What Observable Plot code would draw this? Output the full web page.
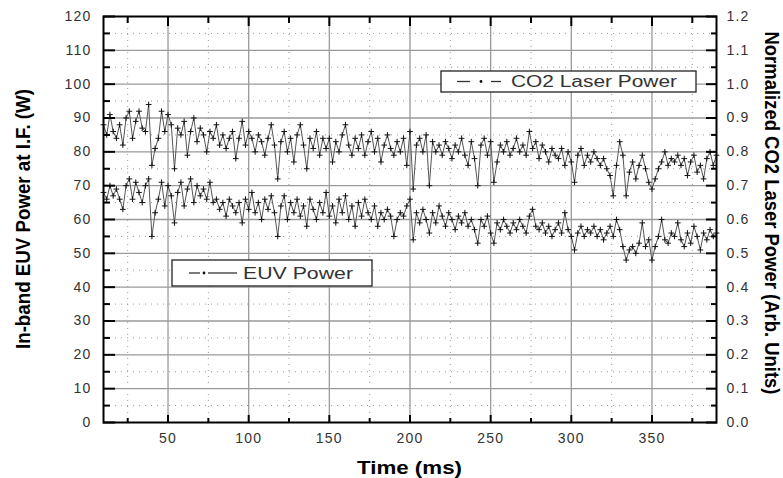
<!DOCTYPE html>
<html><head><meta charset="utf-8">
<script src="https://cdn.jsdelivr.net/npm/d3@7"></script>
<script src="https://cdn.jsdelivr.net/npm/@observablehq/plot@0.6"></script>
<style>body{margin:0;background:#fff;} svg{display:block;}</style>
</head><body><div id="chart"></div>
<script>
// sampling grid (ms)
const timeStart = 10, timeStep = 2;
// Normalized CO2 laser power (right axis, arb. units)
const co2Power = [
0.88,0.85,0.91,0.86,0.84,0.88,0.82,0.90,0.92,0.84,0.89,0.92,0.87,0.86,0.94,0.76,0.81,0.84,0.92,0.86,
0.91,0.88,0.75,0.87,0.85,0.89,0.79,0.86,0.90,0.83,0.87,0.85,0.80,0.86,0.84,0.88,0.82,0.85,0.81,0.84,
0.86,0.78,0.84,0.89,0.82,0.86,0.84,0.80,0.85,0.83,0.79,0.84,0.88,0.82,0.72,0.83,0.86,0.80,0.84,0.77,
0.85,0.88,0.82,0.75,0.84,0.81,0.86,0.79,0.84,0.81,0.84,0.77,0.83,0.80,0.85,0.88,0.82,0.79,0.84,0.81,
0.85,0.79,0.83,0.86,0.80,0.84,0.77,0.82,0.85,0.81,0.79,0.83,0.80,0.84,0.76,0.86,0.69,0.82,0.84,0.80,
0.85,0.70,0.83,0.80,0.82,0.79,0.83,0.81,0.78,0.82,0.80,0.84,0.79,0.76,0.83,0.78,0.70,0.82,0.84,0.79,
0.83,0.71,0.77,0.82,0.80,0.83,0.79,0.81,0.84,0.80,0.82,0.79,0.86,0.81,0.83,0.78,0.82,0.80,0.77,0.81,
0.79,0.78,0.81,0.76,0.80,0.77,0.71,0.79,0.81,0.76,0.79,0.77,0.80,0.78,0.76,0.78,0.75,0.73,0.67,0.76,
0.83,0.79,0.67,0.74,0.77,0.72,0.76,0.79,0.75,0.71,0.69,0.72,0.75,0.77,0.80,0.76,0.78,0.77,0.79,0.76,
0.78,0.73,0.77,0.79,0.74,0.76,0.72,0.78,0.80,0.76,0.79
];
// In-band EUV power at I.F. (W, left axis)
const euvPower = [
68,66,70,67,69,66,63,70,72,66,71,68,65,70,72,55,62,66,71,64,
70,67,59,68,71,64,69,72,65,70,67,69,66,71,65,66,63,65,61,66,
64,62,65,59,66,63,68,62,65,60,66,63,67,62,55,64,67,60,65,62,
66,61,64,58,66,63,60,65,62,68,61,64,59,66,62,67,60,64,58,65,
61,66,62,60,64,58,62,60,63,61,55,60,62,61,64,66,54,62,59,63,
60,56,62,59,64,61,58,62,60,57,61,59,62,58,60,57,53,60,58,61,
56,53,59,57,60,58,56,59,57,60,58,56,61,63,58,57,59,56,58,55,
57,59,56,62,57,55,51,56,58,55,57,56,58,55,57,54,56,58,55,60,
57,52,48,51,52,50,53,59,52,54,48,52,55,60,54,53,56,55,59,54,
52,56,53,58,55,51,56,54,57,55,56
];
const xMajorTicks = [50,100,150,200,250,300,350];
const xMinorTicks = [25,75,125,175,225,275,325,375];
const yMajorTicks = [0,10,20,30,40,50,60,70,80,90,100,110,120];
const yMinorTicks = [5,15,25,35,45,55,65,75,85,95,105,115];
const rightTickLabels = ["0.0","0.1","0.2","0.3","0.4","0.5","0.6","0.7","0.8","0.9","1.0","1.1","1.2"];
const xLabel = "Time (ms)";
const yLabel = "In-band EUV Power at I.F. (W)";
const y2Label = "Normalized CO2 Laser Power (Arb. Units)";
const legendLabels = ["CO2 Laser Power", "EUV Power"];

const co2 = co2Power.map((v, i) => ({t: timeStart + timeStep * i, v: v * 100}));
const euv = euvPower.map((v, i) => ({t: timeStart + timeStep * i, v}));
const innerMajorY = yMajorTicks.filter(d => d > 0 && d < 120);

const font = "'Liberation Sans', Arial, sans-serif";
const svg = Plot.plot({
  width: 783, height: 478,
  marginLeft: 103, marginRight: 67, marginTop: 16, marginBottom: 56,
  style: {fontFamily: font, background: "#fff", letterSpacing: "1.2px"},
  x: {domain: [10, 390], label: null},
  y: {domain: [0, 120], label: null},
  marks: [
    Plot.ruleY(yMinorTicks, {stroke: "#9a9a9a", strokeDasharray: "1,5"}),
    Plot.ruleX(xMinorTicks, {stroke: "#9a9a9a", strokeDasharray: "1,5"}),
    Plot.ruleY(innerMajorY, {stroke: "#9a9a9a", strokeWidth: 1.3}),
    Plot.ruleX(xMajorTicks, {stroke: "#9a9a9a", strokeWidth: 1.3}),
    Plot.line(co2, {x: "t", y: "v", stroke: "#555", strokeWidth: 1}),
    Plot.line(euv, {x: "t", y: "v", stroke: "#555", strokeWidth: 1}),
    Plot.dot(co2, {x: "t", y: "v", symbol: "plus", r: 2, stroke: "#111", strokeWidth: 1}),
    Plot.dot(euv, {x: "t", y: "v", symbol: "plus", r: 2, stroke: "#111", strokeWidth: 1}),
    Plot.frame({stroke: "#000", strokeWidth: 2}),
    // inward tick marks
    Plot.axisY(yMajorTicks, {anchor: "left", tickSize: 12, dx: 12, fill: "none", strokeWidth: 2, label: null}),
    Plot.axisY(yMinorTicks, {anchor: "left", tickSize: 7, dx: 7, fill: "none", strokeWidth: 2, label: null}),
    Plot.axisY(yMajorTicks, {anchor: "right", tickSize: 11, dx: -11, fill: "none", strokeWidth: 2, label: null}),
    Plot.axisY(yMinorTicks, {anchor: "right", tickSize: 6, dx: -6, fill: "none", strokeWidth: 2, label: null}),
    Plot.axisX(xMajorTicks, {anchor: "top", tickSize: 9, dy: 9, fill: "none", strokeWidth: 2, label: null}),
    Plot.axisX(xMinorTicks, {anchor: "top", tickSize: 6, dy: 6, fill: "none", strokeWidth: 2, label: null}),
    Plot.axisX(xMajorTicks, {anchor: "bottom", tickSize: 7, dy: -7, fill: "none", strokeWidth: 2, label: null}),
    Plot.axisX(xMinorTicks, {anchor: "bottom", tickSize: 4, dy: -4, fill: "none", strokeWidth: 2, label: null}),
    // tick labels
    Plot.axisY(yMajorTicks, {anchor: "left", tickSize: 0, tickPadding: 12, label: null, fill: "#333", fontSize: 14}),
    Plot.axisY(yMajorTicks, {anchor: "right", tickSize: 0, tickPadding: 10, label: null, fill: "#333", fontSize: 14,
      tickFormat: d => rightTickLabels[yMajorTicks.indexOf(d)]}),
    Plot.axisX(xMajorTicks, {anchor: "bottom", tickSize: 0, tickPadding: 11, label: null, fill: "#333", fontSize: 14})
  ]
});
document.getElementById("chart").appendChild(svg);

const g = d3.select(svg).append("g").attr("font-family", font).style("letter-spacing", "0px");
// axis titles
g.append("text").text(yLabel)
  .attr("transform", "translate(29.5,219) rotate(-90)")
  .attr("text-anchor", "middle").attr("font-weight", "bold").attr("font-size", 21)
  .attr("textLength", 260).attr("lengthAdjust", "spacingAndGlyphs").attr("fill", "#000");
g.append("text").text(y2Label)
  .attr("transform", "translate(765,213) rotate(90)")
  .attr("text-anchor", "middle").attr("font-weight", "bold").attr("font-size", 21)
  .attr("textLength", 363).attr("lengthAdjust", "spacingAndGlyphs").attr("fill", "#000");
g.append("text").text(xLabel)
  .attr("x", 409.5).attr("y", 474)
  .attr("text-anchor", "middle").attr("font-weight", "bold").attr("font-size", 18)
  .attr("textLength", 105).attr("lengthAdjust", "spacingAndGlyphs").attr("fill", "#000");

// legends
function legend(x, y, w, h, seg1, dot, seg2, tx, tLen, fs, label) {
  const cy = y + h / 2;
  g.append("rect").attr("x", x).attr("y", y).attr("width", w).attr("height", h)
    .attr("fill", "#fff").attr("stroke", "#222").attr("stroke-width", 1.3);
  g.append("line").attr("x1", seg1[0]).attr("x2", seg1[1]).attr("y1", cy).attr("y2", cy).attr("stroke", "#333").attr("stroke-width", 1.3);
  g.append("line").attr("x1", seg2[0]).attr("x2", seg2[1]).attr("y1", cy).attr("y2", cy).attr("stroke", "#333").attr("stroke-width", 1.3);
  g.append("circle").attr("cx", dot).attr("cy", cy).attr("r", 1.4).attr("fill", "#111");
  g.append("text").text(label).attr("x", tx).attr("y", cy).attr("dy", "0.36em")
    .attr("text-anchor", "start")
    .attr("font-size", fs).attr("fill", "#333")
    .attr("textLength", tLen).attr("lengthAdjust", "spacingAndGlyphs");
}
legend(441, 71, 255, 21, [457, 470], 481, [491, 501], 511, 166, 16, legendLabels[0]);
legend(172, 260, 200, 26, [189, 200], 204, [208, 237], 243, 110, 17, legendLabels[1]);
</script>
</body></html>
